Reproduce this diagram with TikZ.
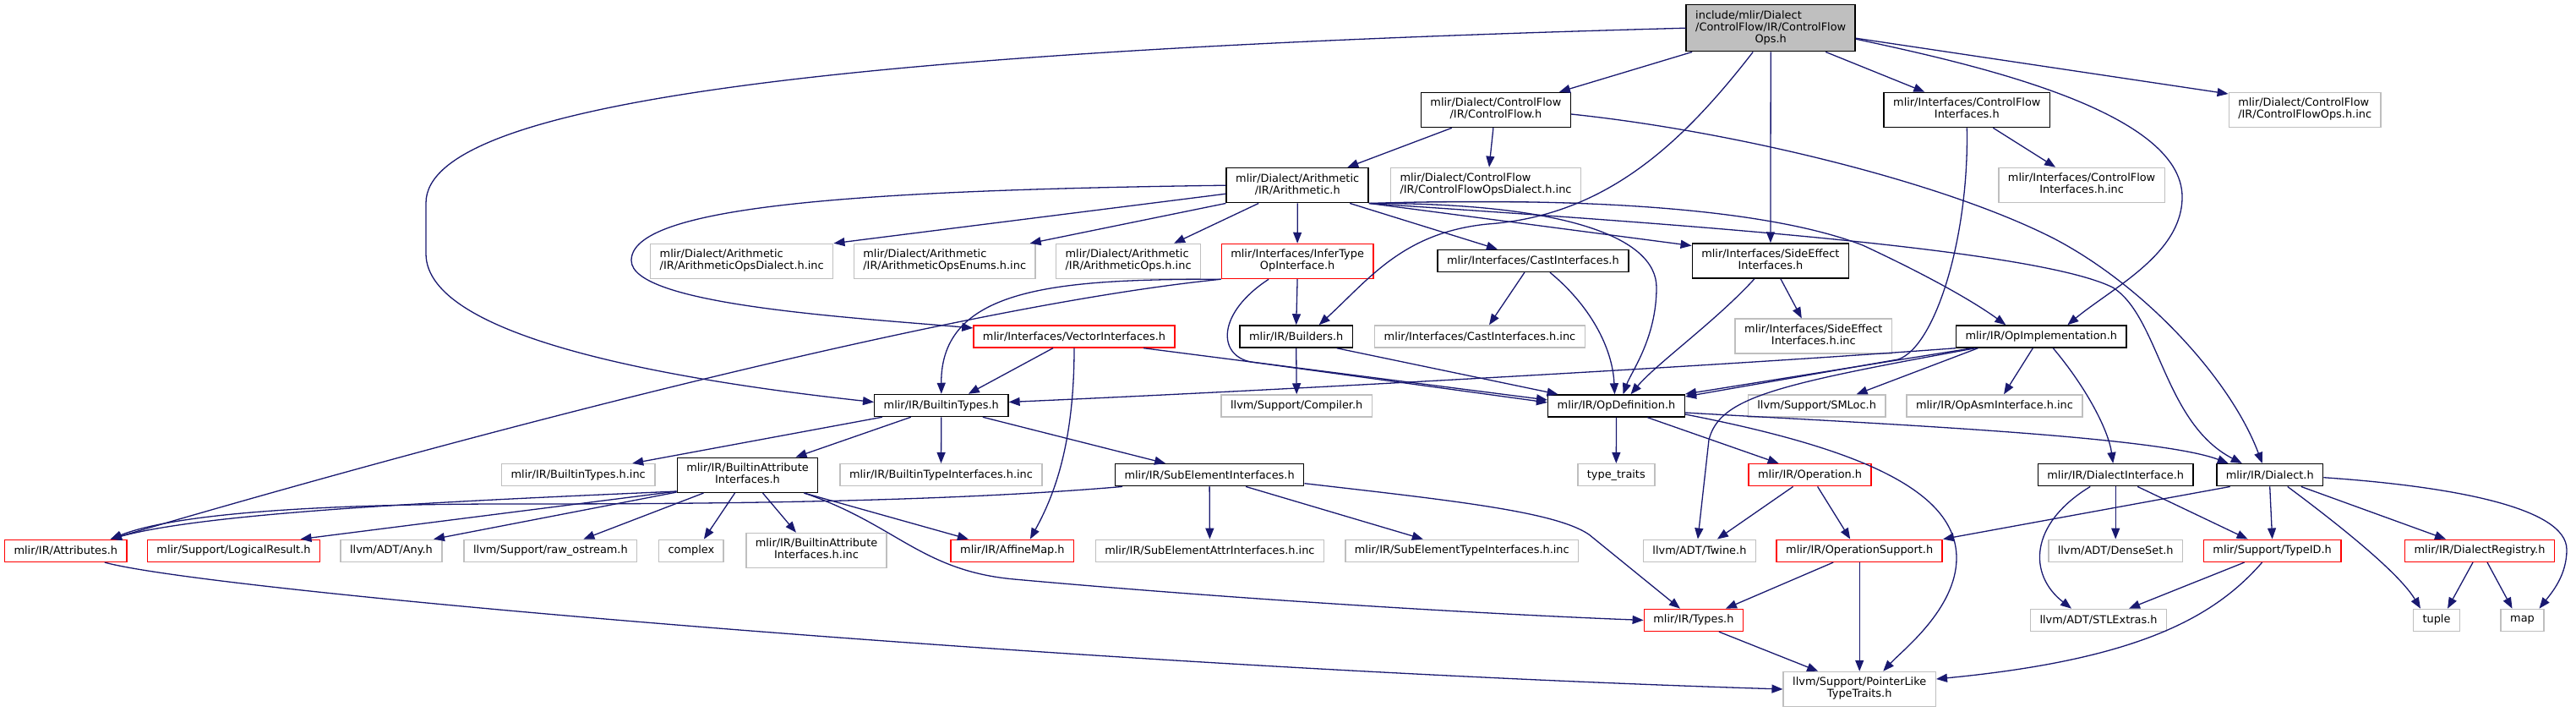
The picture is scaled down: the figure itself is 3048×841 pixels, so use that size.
\documentclass[tikz,border=0pt]{standalone}
\usepackage{fontspec}
\setmainfont{DejaVu Sans}
\usepackage{xcolor}
\usepackage{tikz}
\usetikzlibrary{arrows.meta}
\definecolor{edgeblue}{HTML}{191970}
\definecolor{rootgray}{HTML}{BFBFBF}
\definecolor{extgray}{HTML}{BFBFBF}
% left lines, last line centred (as the graph tool sets them)
\newcommand{\twoline}[2]{\begin{tabular}{@{}l@{}}#1\\\multicolumn{1}{@{}c@{}}{#2}\end{tabular}}
\newcommand{\threeline}[3]{\begin{tabular}{@{}l@{}}#1\\#2\\\multicolumn{1}{@{}c@{}}{#3}\end{tabular}}
\tikzset{
  filebox/.style={rectangle, line width=1.5pt, fill=white, inner xsep=11pt,
                  inner ysep=6.5pt, minimum height=26pt,
                  font=\fontsize{12.9}{14}\selectfont},
  rootbox/.style={filebox, draw=black, fill=rootgray},
  docbox/.style={filebox, draw=black},
  extbox/.style={filebox, draw=extgray},
  truncbox/.style={filebox, draw=red},
  incarr/.style={-{Triangle[length=13pt,width=10pt]}, draw=edgeblue, line width=1.3pt},
}

\begin{document}
\begin{tikzpicture}[x=1pt, y=-1pt]
  \useasboundingbox (0,0) rectangle (3048,841);

  %% === Root and first level ===
  \node[rootbox]  (main)     at (2095.2,33.2) {\threeline{include/mlir/Dialect}{/ControlFlow/IR/ControlFlow}{Ops.h}};
  \node[docbox]   (cfh)      at (1769.9,130)  {\twoline{mlir/Dialect/ControlFlow}{/IR/ControlFlow.h}};
  \node[docbox]   (cfifh)    at (2327.3,130)  {\twoline{mlir/Interfaces/ControlFlow}{Interfaces.h}};
  \node[extbox]   (cfopsinc) at (2727.2,130)  {\twoline{mlir/Dialect/ControlFlow}{/IR/ControlFlowOps.h.inc}};

  %% === Arithmetic row ===
  \node[docbox]   (arith)     at (1535.2,219.2) {\twoline{mlir/Dialect/Arithmetic}{/IR/Arithmetic.h}};
  \node[extbox]   (cfdialinc) at (1758,219)     {\twoline{mlir/Dialect/ControlFlow}{/IR/ControlFlowOpsDialect.h.inc}};
  \node[extbox]   (cfifinc)   at (2463.1,219)   {\twoline{mlir/Interfaces/ControlFlow}{Interfaces.h.inc}};

  \node[extbox]   (arithdialinc) at (877.7,309)  {\twoline{mlir/Dialect/Arithmetic}{/IR/ArithmeticOpsDialect.h.inc}};
  \node[extbox]   (arithenuminc) at (1117.7,309) {\twoline{mlir/Dialect/Arithmetic}{/IR/ArithmeticOpsEnums.h.inc}};
  \node[extbox]   (arithopsinc)  at (1335.1,309) {\twoline{mlir/Dialect/Arithmetic}{/IR/ArithmeticOps.h.inc}};
  \node[truncbox] (infer)        at (1535.1,309) {\twoline{mlir/Interfaces/InferType}{OpInterface.h}};
  \node[docbox]   (castif)       at (1813.9,308.4) {mlir/Interfaces/CastInterfaces.h};
  \node[docbox]   (sideeff)      at (2094.9,308.5) {\twoline{mlir/Interfaces/SideEffect}{Interfaces.h}};

  \node[truncbox] (vectorif)   at (1271,397.9)   {mlir/Interfaces/VectorInterfaces.h};
  \node[docbox]   (builders)   at (1533.7,398)   {mlir/IR/Builders.h};
  \node[extbox]   (castinc)    at (1751,398)     {mlir/Interfaces/CastInterfaces.h.inc};
  \node[extbox]   (sideeffinc) at (2145.8,397.7) {\twoline{mlir/Interfaces/SideEffect}{Interfaces.h.inc}};
  \node[docbox]   (opimpl)     at (2415.3,398)   {mlir/IR/OpImplementation.h};

  \node[docbox]   (builtintypes) at (1113.8,479.5) {mlir/IR/BuiltinTypes.h};
  \node[extbox]   (compiler)     at (1534.2,480)   {llvm/Support/Compiler.h};
  \node[docbox]   (opdef)        at (1912.5,480)   {mlir/IR/OpDefinition.h};
  \node[extbox]   (smloc)        at (2149.6,480)   {llvm/Support/SMLoc.h};
  \node[extbox]   (opasminc)     at (2360,480)     {mlir/IR/OpAsmInterface.h.inc};

  %% === IR row ===
  \node[extbox]   (builtintypesinc) at (684.2,561.7)  {mlir/IR/BuiltinTypes.h.inc};
  \node[docbox]   (battrif)         at (884.5,561.8)  {\twoline{mlir/IR/BuiltinAttribute}{Interfaces.h}};
  \node[extbox]   (btypeifinc)      at (1113.5,561.7) {mlir/IR/BuiltinTypeInterfaces.h.inc};
  \node[docbox]   (subelemif)       at (1431.1,561.7) {mlir/IR/SubElementInterfaces.h};
  \node[extbox]   (typetraits)      at (1912.3,561.7) {type\_traits};
  \node[truncbox] (operation)       at (2141.6,561.7) {mlir/IR/Operation.h};
  \node[docbox]   (dialectif)       at (2503.2,561.7) {mlir/IR/DialectInterface.h};
  \node[docbox]   (dialect)         at (2685.7,561.7) {mlir/IR/Dialect.h};

  %% === Leaves ===
  \node[truncbox] (attributes)    at (77.8,651.3)   {mlir/IR/Attributes.h};
  \node[truncbox] (logicalresult) at (276.5,651.3)  {mlir/Support/LogicalResult.h};
  \node[extbox]   (any)           at (463,651.3)    {llvm/ADT/Any.h};
  \node[extbox]   (rawostream)    at (651.4,651.3)  {llvm/Support/raw\_ostream.h};
  \node[extbox]   (complex)       at (817.9,651.3)  {complex};
  \node[extbox]   (battrinc)      at (966,651)      {\twoline{mlir/IR/BuiltinAttribute}{Interfaces.h.inc}};
  \node[truncbox] (affinemap)     at (1197.9,651.3) {mlir/IR/AffineMap.h};
  \node[extbox]   (subattrinc)    at (1431.4,651.3) {mlir/IR/SubElementAttrInterfaces.h.inc};
  \node[extbox]   (subtypeinc)    at (1729.8,651.3) {mlir/IR/SubElementTypeInterfaces.h.inc};
  \node[extbox]   (twine)         at (2010.9,651.3) {llvm/ADT/Twine.h};
  \node[truncbox] (opsupport)     at (2200.2,651.3) {mlir/IR/OperationSupport.h};
  \node[extbox]   (denseset)      at (2503.2,651.3) {llvm/ADT/DenseSet.h};
  \node[truncbox] (typeid)        at (2688.6,651.3) {mlir/Support/TypeID.h};
  \node[truncbox] (dialreg)       at (2934,651.3)   {mlir/IR/DialectRegistry.h};

  \node[truncbox] (types)       at (2003.9,733.4) {mlir/IR/Types.h};
  \node[extbox]   (stlextras)   at (2483,733.4)   {llvm/ADT/STLExtras.h};
  \node[extbox]   (tuple)       at (2883,733.4)   {tuple};
  \node[extbox]   (map)         at (2984.5,733.4) {map};
  \node[extbox]   (pointerlike) at (2200.2,815)   {\twoline{llvm/Support/PointerLike}{TypeTraits.h}};

  %% === Root includes ===
  \draw[incarr] (main.west) .. controls (1000,60) and (504,120) .. (504,240) -- (504,300)
    .. controls (504,400) and (800,450) .. ([yshift=4pt]builtintypes.west);
  \draw[incarr] ([xshift=-93pt]main.south) -- ([xshift=75pt]cfh.north);
  \draw[incarr] ([xshift=-21pt]main.south) .. controls (1990,170) and (1900,255) .. (1760,265)
    .. controls (1660,275) and (1620,330) .. ([xshift=27pt]builders.north);
  \draw[incarr] (main.south) -- (sideeff.north);
  \draw[incarr] ([xshift=65pt]main.south) -- ([xshift=-50pt]cfifh.north);
  \draw[incarr] ([yshift=-13pt]main.east) .. controls (2330,75) and (2582,130) .. (2582,233)
    .. controls (2582,300) and (2500,340) .. ([xshift=31pt]opimpl.north);
  \draw[incarr] ([yshift=-12pt]main.east) -- ([yshift=19pt]cfopsinc.west);

  %% === ControlFlow.h ===
  \draw[incarr] ([xshift=-52pt]cfh.south) -- ([xshift=59pt]arith.north);
  \draw[incarr] ([xshift=-3pt]cfh.south) -- ([xshift=4pt]cfdialinc.north);
  \draw[incarr] ([yshift=-5pt]cfh.east) .. controls (2050,155) and (2300,215) .. (2432,283)
    .. controls (2540,340) and (2640,450) .. ([xshift=-9pt]dialect.north);

  %% === Arithmetic.h ===
  \draw[incarr] (arith.west) .. controls (1000,225) and (747,245) .. (747,308)
    .. controls (747,360) and (1000,375) .. ([yshift=10pt]vectorif.west);
  \draw[incarr] ([yshift=-10pt]arith.west) -- (arithdialinc.north east);
  \draw[incarr] (arith.south west) -- ([xshift=101pt]arithenuminc.north);
  \draw[incarr] ([xshift=-46pt]arith.south) -- ([xshift=54pt]arithopsinc.north);
  \draw[incarr] (arith.south) -- (infer.north);
  \draw[incarr] ([xshift=62pt]arith.south) -- ([xshift=-42pt]castif.north);
  \draw[incarr] (arith.south east) -- ([yshift=18pt]sideeff.west);
  \draw[incarr] (arith.south east) .. controls (1900,260) and (2400,290) .. (2500,340)
    .. controls (2555,375) and (2560,500) .. ([xshift=-33pt]dialect.north);
  \draw[incarr] (arith.south east) .. controls (1900,232) and (2100,250) .. (2204,290)
    .. controls (2290,330) and (2340,360) .. ([xshift=-42pt]opimpl.north);
  \draw[incarr] (arith.south east) .. controls (1850,240) and (1960,280) .. (1960,340)
    .. controls (1960,400) and (1930,440) .. ([xshift=8pt]opdef.north);

  %% === InferTypeOpInterface.h ===
  \draw[incarr] (infer.south) -- (builders.north);
  \draw[incarr] (infer.south west) .. controls (1250,330) and (1113,340) .. (builtintypes.north);
  \draw[incarr] (infer.south west) .. controls (1150,360) and (600,500) .. ([xshift=53pt]attributes.north);
  \draw[incarr] ([xshift=-34pt]infer.south) .. controls (1440,370) and (1440,420) .. (1480,428)
    -- ([yshift=4pt]opdef.west);

  %% === VectorInterfaces.h ===
  \draw[incarr] ([xshift=-25pt]vectorif.south) -- ([xshift=32pt]builtintypes.north);
  \draw[incarr] (vectorif.south) .. controls (1271,530) and (1245,590) .. ([xshift=21pt]affinemap.north);
  \draw[incarr] ([xshift=82pt]vectorif.south) -- ([yshift=7pt]opdef.west);

  %% === Builders.h, CastInterfaces.h, SideEffectInterfaces.h ===
  \draw[incarr] (builders.south) -- (compiler.north);
  \draw[incarr] ([xshift=48pt]builders.south) -- ([xshift=-69pt]opdef.north);
  \draw[incarr] ([xshift=-10pt]castif.south) -- ([xshift=11pt]castinc.north);
  \draw[incarr] ([xshift=20pt]castif.south) .. controls (1880,360) and (1908,410) .. ([xshift=-2pt]opdef.north);
  \draw[incarr] ([xshift=12pt]sideeff.south) -- ([xshift=-14pt]sideeffinc.north);
  \draw[incarr] ([xshift=-19pt]sideeff.south) .. controls (2030,380) and (1960,430) .. ([xshift=17pt]opdef.north);

  %% === ControlFlowInterfaces.h ===
  \draw[incarr] ([xshift=31pt]cfifh.south) -- ([xshift=-31pt]cfifinc.north);
  \draw[incarr] (cfifh.south) .. controls (2330,280) and (2290,410) .. (2246,425)
    -- ([yshift=11pt]opdef.east);

  %% === OpImplementation.h ===
  \draw[incarr] (opimpl.south west) .. controls (2000,435) and (1500,462) .. ([yshift=4pt]builtintypes.east);
  \draw[incarr] ([xshift=-82pt]opimpl.south) -- ([yshift=14pt]opdef.east);
  \draw[incarr] ([xshift=-78pt]opimpl.south) .. controls (2100,455) and (2035,470) .. (2022,520)
    -- ([xshift=-2pt]twine.north);
  \draw[incarr] ([xshift=-75pt]opimpl.south) -- ([xshift=47pt]smloc.north);
  \draw[incarr] ([xshift=-10pt]opimpl.south) -- ([xshift=11pt]opasminc.north);
  \draw[incarr] ([xshift=14pt]opimpl.south) .. controls (2470,460) and (2495,510) .. ([xshift=-3pt]dialectif.north);

  %% === OpDefinition.h ===
  \draw[incarr] (opdef.south) -- (typetraits.north);
  \draw[incarr] ([xshift=37pt]opdef.south) -- ([xshift=-37pt]operation.north);
  \draw[incarr] ([yshift=-8pt]opdef.east) .. controls (2200,500) and (2550,515) .. ([xshift=-49pt]dialect.north);
  \draw[incarr] ([yshift=-10pt]opdef.east) .. controls (2200,530) and (2315,580) .. (2315,660)
    .. controls (2315,720) and (2250,770) .. ([xshift=28pt]pointerlike.north);

  %% === Operation.h, OperationSupport.h, Types.h, Attributes.h ===
  \draw[incarr] ([xshift=-20pt]operation.south) -- ([xshift=21pt]twine.north);
  \draw[incarr] ([xshift=9pt]operation.south) -- ([xshift=-11pt]opsupport.north);
  \draw[incarr] ([xshift=-31pt]opsupport.south) -- ([xshift=38pt]types.north);
  \draw[incarr] (opsupport.south) -- (pointerlike.north);
  \draw[incarr] ([xshift=30pt]types.south) -- ([xshift=-49pt]pointerlike.north);
  \draw[incarr] ([xshift=46pt]attributes.south) .. controls (250,700) and (1300,790) .. (pointerlike.west);

  %% === DialectInterface.h, Dialect.h ===
  \draw[incarr] ([xshift=-30pt]dialectif.south) .. controls (2400,620) and (2400,680) .. ([xshift=-32pt]stlextras.north);
  \draw[incarr] (dialectif.south) -- (denseset.north);
  \draw[incarr] ([xshift=26pt]dialectif.south) -- ([xshift=-29pt]typeid.north);
  \draw[incarr] ([xshift=-47pt]dialect.south) -- (opsupport.north east);
  \draw[incarr] (dialect.south) -- (typeid.north);
  \draw[incarr] ([xshift=21pt]dialect.south) .. controls (2780,630) and (2840,680) .. ([xshift=-19pt]tuple.north);
  \draw[incarr] ([xshift=37pt]dialect.south) -- ([xshift=-40pt]dialreg.north);
  \draw[incarr] ([yshift=-3pt]dialect.east) .. controls (2900,575) and (3037,600) .. (3037,650)
    .. controls (3037,680) and (3020,700) .. ([xshift=20pt]map.north);

  %% === TypeID.h, DialectRegistry.h ===
  \draw[incarr] ([xshift=-33pt]typeid.south) -- ([xshift=36pt]stlextras.north);
  \draw[incarr] ([xshift=-12pt]typeid.south) .. controls (2620,730) and (2530,780) .. ([yshift=12pt]pointerlike.east);
  \draw[incarr] ([xshift=-8pt]dialreg.south) -- ([xshift=13pt]tuple.north);
  \draw[incarr] ([xshift=9pt]dialreg.south) -- ([xshift=-12pt]map.north);

  %% === BuiltinTypes.h ===
  \draw[incarr] ([xshift=-70pt]builtintypes.south) -- ([xshift=64pt]builtintypesinc.north);
  \draw[incarr] ([xshift=-36pt]builtintypes.south) -- ([xshift=57pt]battrif.north);
  \draw[incarr] (builtintypes.south) -- (btypeifinc.north);
  \draw[incarr] ([xshift=49pt]builtintypes.south) -- ([xshift=-52pt]subelemif.north);

  %% === BuiltinAttributeInterfaces.h ===
  \draw[incarr] ([yshift=2pt]battrif.south west) .. controls (550,592) and (250,605) .. ([xshift=53pt]attributes.north);
  \draw[incarr] ([yshift=2pt]battrif.south west) -- ([xshift=79pt]logicalresult.north);
  \draw[incarr] ([yshift=1pt]battrif.south west) -- ([xshift=50pt]any.north);
  \draw[incarr] ([xshift=-52pt]battrif.south) -- ([xshift=39pt]rawostream.north);
  \draw[incarr] ([xshift=-15pt]battrif.south) -- ([xshift=15pt]complex.north);
  \draw[incarr] ([xshift=18pt]battrif.south) -- ([xshift=-24pt]battrinc.north);
  \draw[incarr] ([xshift=67pt]battrif.south) -- ([xshift=-52pt]affinemap.north);
  \draw[incarr] ([xshift=67pt]battrif.south) .. controls (1060,620) and (1090,675) .. (1200,685)
    .. controls (1500,712) and (1800,728) .. (types.west);

  %% === SubElementInterfaces.h ===
  \draw[incarr] ([xshift=-103pt]subelemif.south) .. controls (1100,595) and (800,596) .. (600,596)
    .. controls (350,596) and (200,610) .. ([xshift=53pt]attributes.north);
  \draw[incarr] (subelemif.south) -- (subattrinc.north);
  \draw[incarr] ([xshift=43pt]subelemif.south) -- ([xshift=-46pt]subtypeinc.north);
  \draw[incarr] ([yshift=-10pt]subelemif.east) .. controls (1720,592) and (1840,605) .. (1880,632)
    -- ([xshift=-16pt]types.north);
\end{tikzpicture}
\end{document}
